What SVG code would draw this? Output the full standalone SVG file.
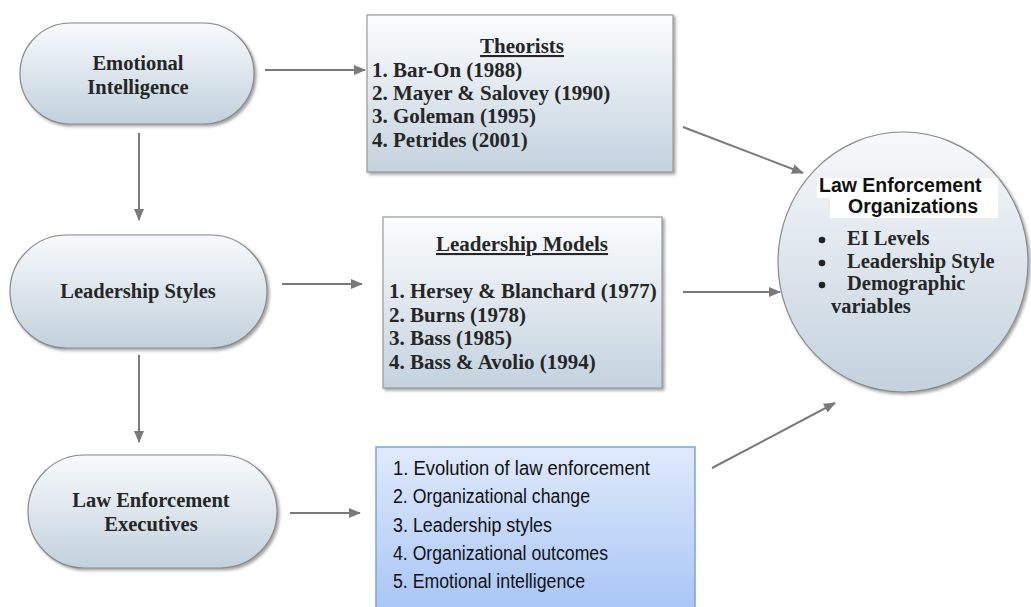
<svg xmlns="http://www.w3.org/2000/svg" width="1031" height="607" viewBox="0 0 1031 607">
  <style>
    .serif { font-family: "Liberation Serif", "Times New Roman", serif; font-weight: bold; fill: #262626; }
    .pill-text { font-size: 20.5px; text-anchor: middle; }
    .box-text { font-size: 21px; }
    .box-title { text-decoration: underline; text-anchor: middle; }
    .sans { font-family: "Liberation Sans", Arial, sans-serif; fill: #111; }
    .list-text { font-size: 19.5px; }
    .org-title { font-size: 19.5px; font-weight: bold; fill: #111; }
    .pill { fill: url(#pillGrad); stroke: #8a8a8a; stroke-width: 1.2; filter: url(#shadow); }
    .box { fill: url(#boxGrad); stroke: #9a9a9a; stroke-width: 1.2; filter: url(#shadow); }
    .bluebox { fill: url(#blueGrad); stroke: #7ea2d8; stroke-width: 1.5; }
    .conn { stroke: #7a7a7a; stroke-width: 2; fill: none; marker-end: url(#arrow); }
  </style>
  <defs>
    <linearGradient id="pillGrad" x1="0" y1="0" x2="0" y2="1">
      <stop offset="0" stop-color="#f8fafc"/>
      <stop offset="1" stop-color="#c2d1dd"/>
    </linearGradient>
    <linearGradient id="boxGrad" x1="0" y1="0" x2="0" y2="1">
      <stop offset="0" stop-color="#fcfdfe"/>
      <stop offset="1" stop-color="#c3d2de"/>
    </linearGradient>
    <linearGradient id="blueGrad" x1="0" y1="0" x2="0" y2="1">
      <stop offset="0" stop-color="#e0eafb"/>
      <stop offset="1" stop-color="#a6c4f5"/>
    </linearGradient>
    <linearGradient id="circleGrad" x1="0" y1="0" x2="0" y2="1">
      <stop offset="0" stop-color="#f7f9fb"/>
      <stop offset="1" stop-color="#c4d2de"/>
    </linearGradient>
    <filter id="shadow" x="-10%" y="-10%" width="125%" height="130%">
      <feDropShadow dx="2" dy="2" stdDeviation="1.5" flood-color="#555" flood-opacity="0.55"/>
    </filter>
    <marker id="arrow" viewBox="0 0 12 10" refX="11" refY="5" markerWidth="12" markerHeight="10" markerUnits="userSpaceOnUse" orient="auto">
      <path d="M0,0 L12,5 L0,10 Z" fill="#7a7a7a"/>
    </marker>
  </defs>

  <rect width="1031" height="607" fill="#ffffff"/>

  <!-- connectors -->
  <g id="connectors">
    <line class="conn" x1="265" y1="70" x2="365" y2="70"/>
    <line class="conn" x1="139" y1="133" x2="139" y2="220"/>
    <line class="conn" x1="282" y1="284" x2="362" y2="284"/>
    <line class="conn" x1="139" y1="355" x2="139" y2="442"/>
    <line class="conn" x1="290" y1="513" x2="360" y2="513"/>
    <line class="conn" x1="683" y1="127" x2="803" y2="173"/>
    <line class="conn" x1="683" y1="292" x2="780" y2="292"/>
    <line class="conn" x1="712" y1="468" x2="835" y2="403"/>
  </g>

  <!-- left column -->
  <g id="emotional-intelligence">
    <rect class="pill" x="20" y="23" width="234" height="101" rx="50.5" ry="50.5"/>
    <text class="serif pill-text" x="138" y="70">Emotional</text>
    <text class="serif pill-text" x="138" y="94">Intelligence</text>
  </g>

  <g id="leadership-styles">
    <rect class="pill" x="10" y="235" width="257" height="113" rx="56.5" ry="56.5"/>
    <text class="serif pill-text" x="138" y="298">Leadership Styles</text>
  </g>

  <g id="law-enforcement-executives">
    <rect class="pill" x="28" y="455" width="249" height="113" rx="56.5" ry="56.5"/>
    <text class="serif pill-text" x="151" y="507">Law Enforcement</text>
    <text class="serif pill-text" x="151" y="531">Executives</text>
  </g>

  <!-- middle column -->
  <g id="theorists">
    <rect class="box" x="367" y="15" width="306" height="157"/>
    <text class="serif box-text box-title" x="522" y="53">Theorists</text>
    <text class="serif box-text" x="372" y="77">1. Bar-On (1988)</text>
    <text class="serif box-text" x="372" y="100">2. Mayer &amp; Salovey (1990)</text>
    <text class="serif box-text" x="372" y="123">3. Goleman (1995)</text>
    <text class="serif box-text" x="372" y="147">4. Petrides (2001)</text>
  </g>

  <g id="leadership-models">
    <rect class="box" x="383" y="217" width="279" height="171"/>
    <text class="serif box-text box-title" x="522" y="251">Leadership Models</text>
    <text class="serif box-text" x="389" y="298">1. Hersey &amp; Blanchard (1977)</text>
    <text class="serif box-text" x="389" y="321.5">2. Burns (1978)</text>
    <text class="serif box-text" x="389" y="345">3. Bass (1985)</text>
    <text class="serif box-text" x="389" y="368.5">4. Bass &amp; Avolio (1994)</text>
  </g>

  <g id="topics">
    <rect class="bluebox" x="376" y="447" width="319" height="170"/>
    <text class="sans list-text" x="393" y="475" textLength="257" lengthAdjust="spacingAndGlyphs">1. Evolution of law enforcement</text>
    <text class="sans list-text" x="393" y="503" textLength="197" lengthAdjust="spacingAndGlyphs">2. Organizational change</text>
    <text class="sans list-text" x="393" y="532" textLength="159" lengthAdjust="spacingAndGlyphs">3. Leadership styles</text>
    <text class="sans list-text" x="393" y="560" textLength="215" lengthAdjust="spacingAndGlyphs">4. Organizational outcomes</text>
    <text class="sans list-text" x="393" y="588" textLength="192" lengthAdjust="spacingAndGlyphs">5. Emotional intelligence</text>
  </g>

  <!-- right: target organization -->
  <g id="law-enforcement-organizations">
    <ellipse cx="903" cy="262" rx="125" ry="130" fill="url(#circleGrad)" stroke="#8a8a8a" stroke-width="1.2" filter="url(#shadow)"/>
    <rect x="817" y="178" width="181" height="20" fill="#ffffff"/>
    <rect x="830" y="197" width="168" height="21" fill="#ffffff"/>
    <text class="sans org-title" x="819" y="192">Law Enforcement</text>
    <text class="sans org-title" x="848" y="213">Organizations</text>
    <circle cx="822" cy="240" r="3.3" fill="#222"/>
    <circle cx="822" cy="263" r="3.3" fill="#222"/>
    <circle cx="822" cy="285" r="3.3" fill="#222"/>
    <text class="serif pill-text" x="847" y="245" style="text-anchor:start">EI Levels</text>
    <text class="serif pill-text" x="847" y="268" style="text-anchor:start">Leadership Style</text>
    <text class="serif pill-text" x="847" y="290" style="text-anchor:start">Demographic</text>
    <text class="serif pill-text" x="831" y="313" style="text-anchor:start">variables</text>
  </g>
</svg>
